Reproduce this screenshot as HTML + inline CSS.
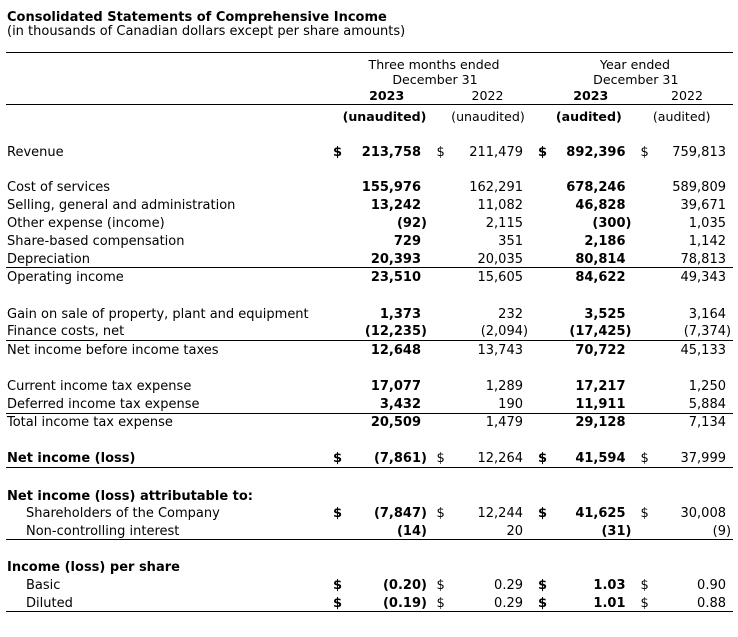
<!DOCTYPE html>
<html><head><meta charset="utf-8">
<style>
html,body{margin:0;padding:0;background:#fff;}
body{width:738px;height:636px;position:relative;overflow:hidden;font-family:"DejaVu Sans","Liberation Sans",sans-serif;font-size:13px;color:#000;}
.w{position:absolute;left:0;top:1px;width:738px;height:636px;}
.t{position:absolute;white-space:nowrap;line-height:18px;}
.b{font-weight:bold;}
.h{visibility:hidden;}
.l{left:7px;}
.i{left:26px;}
.c1{right:311.06px;font-weight:bold;}
.c2{right:209.93px;}
.c3{right:106.56px;font-weight:bold;}
.c4{right:6.93px;}
.d1{left:333px;font-weight:bold;}
.d2{left:436.5px;}
.d3{left:538px;font-weight:bold;}
.d4{left:640.5px;}
.ctr{width:200px;text-align:center;font-size:12.6px;}
.ln{position:absolute;left:6px;width:727px;height:1px;background:#000;}
</style></head><body>

<div class="ln" style="top:52px"></div>
<div class="ln" style="top:104px"></div>
<div class="ln" style="top:267px"></div>
<div class="ln" style="top:340px"></div>
<div class="ln" style="top:413px"></div>
<div class="ln" style="top:467px"></div>
<div class="ln" style="top:539px"></div>
<div class="ln" style="top:611px"></div>

<div class="w">
<div class="t b l" style="top:7.8px">Consolidated Statements of Comprehensive Income</div>
<div class="t l" style="top:21.8px">(in thousands of Canadian dollars except per share amounts)</div>

<div class="t ctr" style="top:54.6px;left:334px">Three months ended</div>
<div class="t ctr" style="top:69.6px;left:335px">December 31</div>
<div class="t ctr" style="top:54.6px;left:535px">Year ended</div>
<div class="t ctr" style="top:69.6px;left:535.8px">December 31</div>

<div class="t ctr b" style="top:86.3px;left:286.7px">2023</div>
<div class="t ctr" style="top:86.3px;left:387.5px">2022</div>
<div class="t ctr b" style="top:86.3px;left:490.8px">2023</div>
<div class="t ctr" style="top:86.3px;left:587px">2022</div>

<div class="t ctr b" style="top:106.6px;left:284.5px">(unaudited)</div>
<div class="t ctr" style="top:106.6px;left:388px">(unaudited)</div>
<div class="t ctr b" style="top:106.6px;left:488.8px">(audited)</div>
<div class="t ctr" style="top:106.6px;left:581.7px">(audited)</div>

<!-- Revenue -->
<div class="t l" style="top:142.5px">Revenue</div>
<div class="t d1" style="top:142.5px">$</div>
<div class="t c1" style="top:142.5px">213,758<span class="h">)</span></div>
<div class="t d2" style="top:142.5px">$</div>
<div class="t c2" style="top:142.5px">211,479<span class="h">)</span></div>
<div class="t d3" style="top:142.5px">$</div>
<div class="t c3" style="top:142.5px">892,396<span class="h">)</span></div>
<div class="t d4" style="top:142.5px">$</div>
<div class="t c4" style="top:142.5px">759,813<span class="h">)</span></div>

<!-- Cost of services -->
<div class="t l" style="top:178px">Cost of services</div>
<div class="t c1" style="top:178px">155,976<span class="h">)</span></div>
<div class="t c2" style="top:178px">162,291<span class="h">)</span></div>
<div class="t c3" style="top:178px">678,246<span class="h">)</span></div>
<div class="t c4" style="top:178px">589,809<span class="h">)</span></div>

<div class="t l" style="top:196px">Selling, general and administration</div>
<div class="t c1" style="top:196px">13,242<span class="h">)</span></div>
<div class="t c2" style="top:196px">11,082<span class="h">)</span></div>
<div class="t c3" style="top:196px">46,828<span class="h">)</span></div>
<div class="t c4" style="top:196px">39,671<span class="h">)</span></div>

<div class="t l" style="top:214px">Other expense (income)</div>
<div class="t c1" style="top:214px">(92)</div>
<div class="t c2" style="top:214px">2,115<span class="h">)</span></div>
<div class="t c3" style="top:214px">(300)</div>
<div class="t c4" style="top:214px">1,035<span class="h">)</span></div>

<div class="t l" style="top:232px">Share-based compensation</div>
<div class="t c1" style="top:232px">729<span class="h">)</span></div>
<div class="t c2" style="top:232px">351<span class="h">)</span></div>
<div class="t c3" style="top:232px">2,186<span class="h">)</span></div>
<div class="t c4" style="top:232px">1,142<span class="h">)</span></div>

<div class="t l" style="top:249.5px">Depreciation</div>
<div class="t c1" style="top:249.5px">20,393<span class="h">)</span></div>
<div class="t c2" style="top:249.5px">20,035<span class="h">)</span></div>
<div class="t c3" style="top:249.5px">80,814<span class="h">)</span></div>
<div class="t c4" style="top:249.5px">78,813<span class="h">)</span></div>

<div class="t l" style="top:267.5px">Operating income</div>
<div class="t c1" style="top:267.5px">23,510<span class="h">)</span></div>
<div class="t c2" style="top:267.5px">15,605<span class="h">)</span></div>
<div class="t c3" style="top:267.5px">84,622<span class="h">)</span></div>
<div class="t c4" style="top:267.5px">49,343<span class="h">)</span></div>

<div class="t l" style="top:304.5px">Gain on sale of property, plant and equipment</div>
<div class="t c1" style="top:304.5px">1,373<span class="h">)</span></div>
<div class="t c2" style="top:304.5px">232<span class="h">)</span></div>
<div class="t c3" style="top:304.5px">3,525<span class="h">)</span></div>
<div class="t c4" style="top:304.5px">3,164<span class="h">)</span></div>

<div class="t l" style="top:321.5px">Finance costs, net</div>
<div class="t c1" style="top:321.5px">(12,235)</div>
<div class="t c2" style="top:321.5px">(2,094)</div>
<div class="t c3" style="top:321.5px">(17,425)</div>
<div class="t c4" style="top:321.5px">(7,374)</div>

<div class="t l" style="top:340.5px">Net income before income taxes</div>
<div class="t c1" style="top:340.5px">12,648<span class="h">)</span></div>
<div class="t c2" style="top:340.5px">13,743<span class="h">)</span></div>
<div class="t c3" style="top:340.5px">70,722<span class="h">)</span></div>
<div class="t c4" style="top:340.5px">45,133<span class="h">)</span></div>

<div class="t l" style="top:376.5px">Current income tax expense</div>
<div class="t c1" style="top:376.5px">17,077<span class="h">)</span></div>
<div class="t c2" style="top:376.5px">1,289<span class="h">)</span></div>
<div class="t c3" style="top:376.5px">17,217<span class="h">)</span></div>
<div class="t c4" style="top:376.5px">1,250<span class="h">)</span></div>

<div class="t l" style="top:394.5px">Deferred income tax expense</div>
<div class="t c1" style="top:394.5px">3,432<span class="h">)</span></div>
<div class="t c2" style="top:394.5px">190<span class="h">)</span></div>
<div class="t c3" style="top:394.5px">11,911<span class="h">)</span></div>
<div class="t c4" style="top:394.5px">5,884<span class="h">)</span></div>

<div class="t l" style="top:412.5px">Total income tax expense</div>
<div class="t c1" style="top:412.5px">20,509<span class="h">)</span></div>
<div class="t c2" style="top:412.5px">1,479<span class="h">)</span></div>
<div class="t c3" style="top:412.5px">29,128<span class="h">)</span></div>
<div class="t c4" style="top:412.5px">7,134<span class="h">)</span></div>

<div class="t l b" style="top:448.5px">Net income (loss)</div>
<div class="t d1" style="top:448.5px">$</div>
<div class="t c1" style="top:448.5px">(7,861)</div>
<div class="t d2" style="top:448.5px">$</div>
<div class="t c2" style="top:448.5px">12,264<span class="h">)</span></div>
<div class="t d3" style="top:448.5px">$</div>
<div class="t c3" style="top:448.5px">41,594<span class="h">)</span></div>
<div class="t d4" style="top:448.5px">$</div>
<div class="t c4" style="top:448.5px">37,999<span class="h">)</span></div>

<div class="t l b" style="top:486.5px">Net income (loss) attributable to:</div>

<div class="t i" style="top:504px">Shareholders of the Company</div>
<div class="t d1" style="top:504px">$</div>
<div class="t c1" style="top:504px">(7,847)</div>
<div class="t d2" style="top:504px">$</div>
<div class="t c2" style="top:504px">12,244<span class="h">)</span></div>
<div class="t d3" style="top:504px">$</div>
<div class="t c3" style="top:504px">41,625<span class="h">)</span></div>
<div class="t d4" style="top:504px">$</div>
<div class="t c4" style="top:504px">30,008<span class="h">)</span></div>

<div class="t i" style="top:521.5px">Non-controlling interest</div>
<div class="t c1" style="top:521.5px">(14)</div>
<div class="t c2" style="top:521.5px">20<span class="h">)</span></div>
<div class="t c3" style="top:521.5px">(31)</div>
<div class="t c4" style="top:521.5px">(9)</div>

<div class="t l b" style="top:558px">Income (loss) per share</div>

<div class="t i" style="top:575.5px">Basic</div>
<div class="t d1" style="top:575.5px">$</div>
<div class="t c1" style="top:575.5px">(0.20)</div>
<div class="t d2" style="top:575.5px">$</div>
<div class="t c2" style="top:575.5px">0.29<span class="h">)</span></div>
<div class="t d3" style="top:575.5px">$</div>
<div class="t c3" style="top:575.5px">1.03<span class="h">)</span></div>
<div class="t d4" style="top:575.5px">$</div>
<div class="t c4" style="top:575.5px">0.90<span class="h">)</span></div>

<div class="t i" style="top:594px">Diluted</div>
<div class="t d1" style="top:594px">$</div>
<div class="t c1" style="top:594px">(0.19)</div>
<div class="t d2" style="top:594px">$</div>
<div class="t c2" style="top:594px">0.29<span class="h">)</span></div>
<div class="t d3" style="top:594px">$</div>
<div class="t c3" style="top:594px">1.01<span class="h">)</span></div>
<div class="t d4" style="top:594px">$</div>
<div class="t c4" style="top:594px">0.88<span class="h">)</span></div>
</div>

</body></html>
